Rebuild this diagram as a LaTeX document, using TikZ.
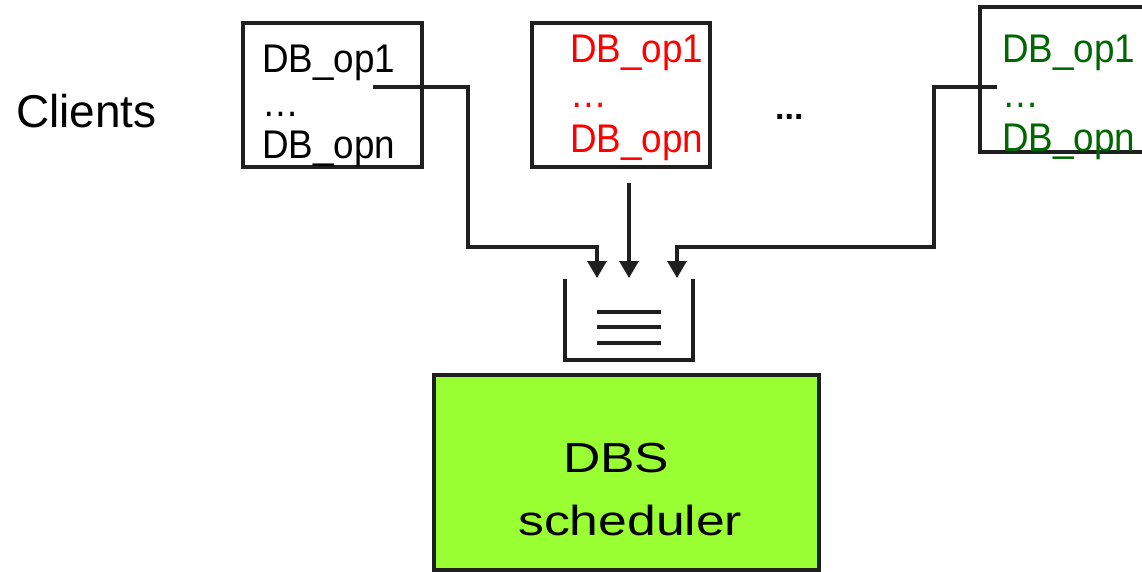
\documentclass[tikz,border=0pt]{standalone}
\usepackage{fontspec}
\setmainfont{Liberation Sans}
\usetikzlibrary{arrows.meta}
\definecolor{opred}{RGB}{255,0,0}
\definecolor{opgreen}{RGB}{0,102,0}
\definecolor{schedgreen}{RGB}{153,255,51}
\tikzset{
  box/.style={draw=black!88, line width=3.5pt, inner sep=0pt},
  conn/.style={draw=black!88, line width=3.2pt},
  arr/.style={conn, -{Triangle[length=17pt,width=19pt]}},
  optext/.style={anchor=base west, inner sep=0pt, font=\fontsize{40}{48}\selectfont},
  bigtext/.style={anchor=base west, inner sep=0pt, font=\fontsize{42}{50}\selectfont},
}
\newcommand{\opx}[1]{\scalebox{0.92}[1]{#1}}
\newcommand{\schx}[1]{\scalebox{1.23}[1]{#1}}
\begin{document}
\begin{tikzpicture}[x=1pt,y=-1pt]
\useasboundingbox (0,0) rectangle (1142,572);
\clip (0,0) rectangle (1142,572);
\fill[white] (0,0) rectangle (1142,572);

% Clients label
\node[anchor=base west, inner sep=0pt, font=\fontsize{46}{54}\selectfont] (clients) at (16,128) {Clients};

% client boxes
\node[box, minimum width=179pt, minimum height=144pt] (b1) at (332.5,95) {};
\node[box, minimum width=178pt, minimum height=144pt] (b2) at (621,95) {};
\node[box, minimum width=180pt, minimum height=145pt] (b3) at (1070,79.5) {};

% box 1 text
\node[optext] (b1a) at (262,73) {\opx{DB\_op1}};
\node[optext] (b1b) at (262,117) {\opx{…}};
\node[optext] (b1c) at (262,159) {\opx{DB\_opn}};
% box 2 text
\node[optext, text=opred] (b2a) at (570,63) {\opx{DB\_op1}};
\node[optext, text=opred] (b2b) at (570,108) {\opx{…}};
\node[optext, text=opred] (b2c) at (570,153) {\opx{DB\_opn}};
% box 3 text
\node[optext, text=opgreen] (b3a) at (1002,63) {\opx{DB\_op1}};
\node[optext, text=opgreen] (b3b) at (1002,108) {\opx{…}};
\node[optext, text=opgreen] (b3c) at (1002,152) {\opx{DB\_opn}};

% dots between
\node[anchor=base west, inner sep=0pt, font=\fontsize{34}{40}\selectfont\bfseries] (dots) at (775,120) {...};

% connectors
\coordinate (s1) at (373,87);
\coordinate (s2) at (629,183);
\coordinate (s3) at (997,87);
\coordinate (t1) at (597,278);
\coordinate (t2) at (629,278);
\coordinate (t3) at (677,278);
\draw[arr] (s1) -- (468,87) -- (468,247) -- (597,247) -- (t1);
\draw[arr] (s2) -- (t2);
\draw[arr] (s3) -- (934,87) -- (934,247) -- (677,247) -- (t3);

% queue
\draw[conn] (565,279) -- (565,360) -- (693,360) -- (693,279);
\coordinate (ql1) at (597,312);
\coordinate (ql2) at (597,327);
\coordinate (ql3) at (597,343);
\draw[conn] (ql1) -- ++(64,0);
\draw[conn] (ql2) -- ++(64,0);
\draw[conn] (ql3) -- ++(64,0);

% scheduler
\node[box, fill=schedgreen, minimum width=385pt, minimum height=195pt] (sched) at (626.5,472.5) {};
\node[bigtext] (dbs) at (563,472) {\schx{DBS}};
\node[bigtext] (schedtxt) at (518,535) {\schx{scheduler}};
\end{tikzpicture}
\end{document}
